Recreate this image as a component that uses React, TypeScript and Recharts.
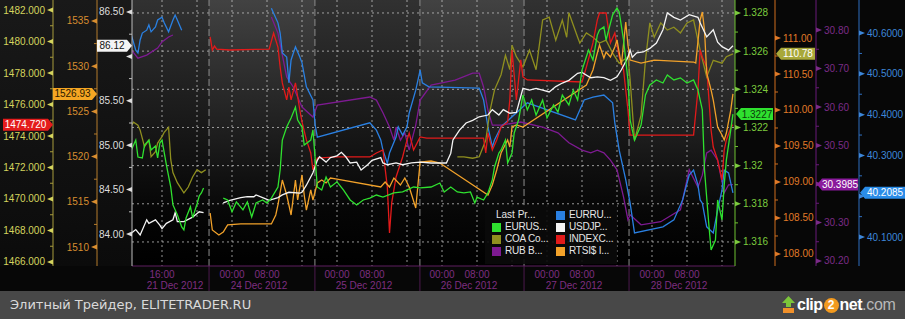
import React from "react";
import { LineChart, Line, XAxis, YAxis, CartesianGrid, ReferenceArea, ReferenceLine } from "recharts";

// hours on the squeezed intraday axis (weekend removed), value or null for a gap
type Pt = [number, number | null];

const timeTicks = [8, 16, 24, 32, 40, 48, 56, 64, 72, 80, 88, 96, 104, 112, 120, 128, 136];
const timeLabels = ["16:00", "", "00:00", "08:00", "", "00:00", "08:00", "", "00:00", "08:00", "", "00:00", "08:00", "", "00:00", "08:00", ""];
const dayLabels = ["21 Dec 2012", "", "", "24 Dec 2012", "", "", "25 Dec 2012", "", "", "26 Dec 2012", "", "", "27 Dec 2012", "", "", "28 Dec 2012", ""];
const dayBreaks = [18.75, 42.95, 66.95, 90.75, 114.75];
const timeDomain = [1.14, 138.97];

const eurUsd: Pt[] = [
  [1, 1.32082], [2, 1.32134], [2.5, 1.32045], [3.5, 1.3204], [4, 1.32108], [5, 1.32134], [5.5, 1.32082], [6.5, 1.32103],
  [7, 1.3204], [7.5, 1.32118], [8, 1.32134], [9, 1.32004], [10, 1.31888], [10.5, 1.31794], [11.5, 1.31742], [12.5, 1.31679],
  [13, 1.31663], [13.5, 1.31726], [14.5, 1.31784], [15, 1.31726], [16, 1.31799], [16.5, 1.31841], [17, 1.31857], [17.5, 1.31883],
  [19, null],
  [22, 1.3183], [23, 1.3182], [24, 1.31758], [25, 1.3181], [26.5, 1.31768], [27.5, 1.3181], [28.5, 1.31731], [29.5, 1.31804],
  [31, 1.3182], [32, 1.31804], [33, 1.3183], [34.5, 1.31888], [35, 1.31977], [35.5, 1.32134], [36.5, 1.32202], [37.5, 1.3225],
  [38.5, 1.32307], [39, 1.32239], [40, 1.32202], [40.5, 1.32108], [42, 1.32134], [42.5, 1.32187], [43.5, 1.31888], [44.5, 1.31872],
  [45.5, 1.3194], [46.5, 1.31888], [48, 1.31915], [49.5, 1.31872], [51, 1.3182], [52.5, 1.31794], [54, 1.3182], [55.5, 1.3183],
  [57, 1.31846], [58.5, 1.31835], [61, 1.31857], [63, 1.31862], [65.5, 1.31888], [67, 1.31883], [69.5, 1.31888], [71.5, 1.31909],
  [72.5, 1.31862], [74, 1.31888], [75.5, 1.31862], [77, 1.31857], [78.5, 1.31862], [79.5, 1.31804], [80, 1.31835], [81.5, 1.3182],
  [82.5, 1.31857], [83.5, 1.31925], [84, 1.31993], [85, 1.32066], [85.5, 1.32082], [86.5, 1.32134], [87, 1.32014], [88, 1.32066],
  [88.5, 1.32171], [89.5, 1.32239], [90.5, 1.3237], [91.5, 1.32292], [92.5, 1.32344], [93.5, 1.32265], [95, 1.32344], [96, 1.3225],
  [97.5, 1.32318], [98.5, 1.32281], [99.5, 1.3237], [101, 1.32318], [102, 1.32396], [103, 1.32344], [104, 1.32501], [105.5, 1.32606],
  [106.5, 1.32554], [107.5, 1.32684], [108, 1.32711], [109, 1.32727], [109.5, 1.32658], [111, 1.3279], [112, 1.32826], [112.5, 1.32805],
  [113.5, 1.32658], [114.5, 1.32449], [115, 1.32239], [116, 1.32134], [117.5, 1.32213], [118.5, 1.3237], [119.5, 1.32423], [121, 1.32449],
  [122.5, 1.32433], [123.5, 1.32475], [125, 1.32449], [126.5, 1.3246], [128, 1.32433], [129.5, 1.32449], [130.5, 1.32396], [131.5, 1.32292],
  [132, 1.31977], [133, 1.31689], [133.5, 1.31558], [134.5, 1.3161], [135, 1.3182], [136, 1.31715], [136.5, 1.31899], [137, 1.3203],
  [138, 1.32187], [138.5, 1.3227],
];

const coa: Pt[] = [
  [1, 109.79], [1.5, 109.83], [2.5, 109.79], [3, 109.72], [4, 109.49], [5, 109.58], [5.5, 109.35], [6.5, 109.42], [7, 109.54],
  [8, 109.63], [8.5, 109.69], [9.5, 109.76], [10, 109.31], [10.5, 109.13], [11.5, 108.99], [13, 108.85], [14, 108.93], [15, 109.07],
  [16, 109.17], [17, 109.13], [18, 109.17], [19, null],
  [75.5, 109.35], [77, 109.35], [79, 109.33], [80.5, 109.35], [82, 109.58], [83, 110.0], [84, 110.28], [85.5, 110.49], [86.5, 110.76],
  [87.5, 110.56], [88, 110.9], [89, 110.74], [90.5, 110.6], [92, 110.83], [93.5, 110.56], [95, 111.25], [96.5, 111.29], [98, 110.97],
  [99.5, 111.25], [100.5, 111.01], [101, 111.35], [103, 111.01], [103.5, 110.93], [105, 111.07], [106.5, 111.01], [108, 110.93],
  [109.5, 110.97], [111, 110.79], [112.5, 110.65], [114.5, 110.74], [115, 110.42], [116, 109.58], [117.5, 109.93], [118.5, 110.69],
  [119.5, 111.21], [120.5, 111.01], [122, 111.21], [123.5, 111.11], [125, 111.15], [126.5, 111.07], [128, 111.21], [129.5, 111.25],
  [131, 110.83], [132.5, 110.46], [134, 110.69], [136, 110.65], [137, 110.74], [138.5, 110.78],
];

const rub: Pt[] = [
  [1, 30.748], [2.5, 30.727], [4.5, 30.735], [7, 30.753], [8, 30.769], [9.5, 30.782], [10.5, 30.787], [12, null],
  [33, 30.834], [34.5, 30.792], [36.5, 30.678], [38, 30.652], [40, 30.6], [42.5, 30.574], [43.5, 30.605], [55.5, 30.626],
  [57, 30.618], [58.5, 30.585], [60, 30.548], [61, 30.514], [61.5, 30.548], [62.5, 30.514], [63.5, 30.533], [64.5, 30.488],
  [66, 30.553], [67, 30.618], [69.5, 30.657], [75, 30.67], [79, 30.688], [80.5, 30.688], [81.5, 30.652], [82.5, 30.592],
  [83.5, 30.553], [85.5, 30.553], [90, 30.561], [95, 30.548], [98.5, 30.533], [101, 30.507], [104, 30.488], [106, 30.481],
  [107.5, 30.488], [109, 30.481], [110.5, 30.462], [112, 30.437], [113.5, 30.366], [114.5, 30.307], [115, 30.32], [117.5, 30.294],
  [122, 30.302], [126.5, 30.333], [128.5, 30.437], [130.5, 30.392], [131.5, 30.423], [132.5, 30.481], [133.5, 30.488], [135, 30.462],
  [136.5, 30.377], [137.5, 30.398], [138.5, 30.3985],
];

const eurRub: Pt[] = [
  [1, 40.595], [2, 40.558], [2.5, 40.551], [3, 40.583], [3.5, 40.6], [4.5, 40.607], [5, 40.62], [5.5, 40.603], [6.5, 40.615],
  [7, 40.632], [8, 40.639], [8.5, 40.625], [9.5, 40.603], [10.5, 40.632], [11, 40.644], [11.5, 40.632], [12.5, 40.607], [13, null],
  [33, 40.661], [34.5, 40.625], [35, 40.6], [35.5, 40.551], [36.5, 40.541], [37, 40.478], [37.5, 40.534], [38.5, 40.566],
  [39.5, 40.541], [40, 40.527], [41, 40.468], [42.5, 40.436], [43, 40.375], [43.5, 40.345], [55.5, 40.38], [57, 40.362],
  [58, 40.338], [58.5, 40.313], [59.5, 40.281], [60, 40.306], [61.5, 40.345], [62, 40.37], [63, 40.35], [64, 40.37],
  [64.5, 40.404], [66, 40.46], [67, 40.509], [67.5, 40.478], [69, 40.468], [80.5, 40.465], [81.5, 40.436], [82.5, 40.37],
  [83.5, 40.321], [84, 40.338], [85.5, 40.37], [86, 40.375], [91.5, 40.429], [102.5, 40.387], [104.5, 40.436], [106.5, 40.443],
  [109, 40.448], [111, 40.429], [111.5, 40.38], [112.5, 40.313], [114, 40.24], [115, 40.183], [116, 40.11], [122.5, 40.125],
  [125, 40.142], [127, 40.191], [128.5, 40.252], [129.5, 40.264], [130.5, 40.228], [131, 40.191], [131.5, 40.183], [132.5, 40.125],
  [134, 40.11], [135, 40.166], [136, 40.215], [136.5, 40.264], [137.5, 40.257], [138.5, 40.2085],
];

const usdJpy: Pt[] = [
  [1, 84.01], [2, 84.05], [3, 83.99], [4.5, 84.16], [5, 84.12], [6.5, 84.16], [7.5, 84.1], [8, 84.06], [9, 84.12], [10.5, 84.16],
  [11, 84.24], [11.5, 84.14], [13, 84.14], [15, 84.19], [16.5, 84.25], [17.5, 84.24], [19, null],
  [22, 84.35], [23.5, 84.38], [26, 84.41], [27.5, 84.42], [29, 84.42], [29.5, 84.44], [31, 84.41], [32.5, 84.38], [34.5, 84.41],
  [35.5, 84.44], [37, 84.47], [39.5, 84.46], [40, 84.47], [41, 84.55], [42.5, 84.69], [43.5, 84.83], [44, 84.87], [45.5, 84.81],
  [46.5, 84.86], [48, 84.88], [49, 84.92], [50, 84.87], [51, 84.8], [52.5, 84.81], [53.5, 84.72], [55, 84.78], [56, 84.83],
  [58, 84.86], [58.5, 84.8], [59.5, 84.78], [61.5, 84.8], [63, 84.78], [65, 84.8], [67, 84.81], [69.5, 84.8], [71.5, 84.8],
  [73, 84.8], [74, 84.91], [74.5, 85.06], [76, 85.17], [77.5, 85.25], [79, 85.28], [80.5, 85.32], [82.5, 85.34], [83.5, 85.4],
  [85, 85.34], [86, 85.4], [87.5, 85.36], [89, 85.37], [90.5, 85.64], [92, 85.62], [93.5, 85.64], [95, 85.62], [96.5, 85.6],
  [98, 85.66], [99.5, 85.7], [101, 85.73], [103, 85.81], [104, 85.82], [106, 85.76], [107.5, 85.77], [109, 85.76], [110.5, 85.73],
  [112, 85.77], [113, 85.85], [114.5, 85.99], [115, 86.07], [115.5, 85.99], [116.5, 86.04], [118, 86.05], [119.5, 86.09],
  [121, 86.15], [122.5, 86.3], [123.5, 86.49], [125, 86.44], [126.5, 86.41], [128.5, 86.47], [130.5, 86.44], [131, 86.38],
  [132.5, 86.22], [134, 86.3], [135, 86.16], [136, 86.11], [137.5, 86.07], [138.5, 86.12],
];

const indexC: Pt[] = [
  [19, 1480.29], [19.5, 1479.46], [20, 1479.71], [20.5, 1479.52], [23.5, 1479.46], [32.5, 1479.52], [33.5, 1480.54], [34.5, 1479.65],
  [35, 1478.38], [35.5, 1477.37], [36.5, 1476.29], [37, 1477.11], [37.5, 1476.29], [38.5, 1477.37], [39.5, 1475.65], [40, 1474.89],
  [41, 1473.75], [42, 1472.92], [42.5, 1471.84], [43.5, 1472.6], [48, 1472.67], [55.5, 1472.67], [57, 1472.92], [58.5, 1473.11],
  [59.5, 1470.76], [60, 1467.84], [60.5, 1469.75], [61.5, 1471.4], [63, 1472.67], [64, 1473.75], [64.5, 1474.19], [65.5, 1473.11],
  [67, 1473.94], [68.5, 1473.87], [81.5, 1473.87], [82, 1472.92], [82.5, 1474.19], [83.5, 1473.11], [84.5, 1473.75], [85.5, 1474.57],
  [87, 1474.89], [87.5, 1476.29], [88, 1479.46], [89, 1476.29], [90, 1478.83], [90.5, 1477.75], [91.5, 1477.56], [104, 1477.43],
  [105, 1478.38], [106.5, 1479.91], [107.5, 1481.37], [108, 1481.81], [109.5, 1481.81], [110.5, 1479.91], [111.5, 1480.54],
  [112.5, 1479.02], [113.5, 1478.19], [114.5, 1475.65], [115, 1474.06], [129.5, 1474.06], [130.5, 1476.92], [131, 1479.46],
  [131.5, 1479.02], [132.5, 1478.38], [133.5, 1474.38], [134, 1473.3], [135, 1472.48], [136, 1471.21], [136.5, 1473.11],
  [137, 1473.75], [138, 1474.51], [138.5, 1474.72],
];

const rtsi: Pt[] = [
  [19, 1513.76], [19.5, 1511.88], [21, 1511.33], [22, 1511.66], [23, 1512.44], [26, 1512.55], [29, 1512.55], [33, 1512.55],
  [34, 1513.54], [34.5, 1514.65], [35.5, 1517.41], [36.5, 1515.75], [37.5, 1513.54], [38.5, 1517.41], [39, 1515.2], [40, 1517.97],
  [40.5, 1515.75], [41, 1514.09], [42, 1516.31], [42.5, 1515.2], [43.5, 1517.08], [44.5, 1517.41], [45.5, 1517.08], [46.5, 1517.63],
  [48, 1517.52], [58, 1516.64], [59, 1517.19], [60, 1516.64], [61, 1517.63], [62.5, 1516.86], [63.5, 1517.63], [64.5, 1516.64],
  [66, 1514.32], [67, 1519.4], [69.5, 1519.51], [71.5, 1519.29], [82.5, 1515.75], [83.5, 1516.86], [84.5, 1518.52], [85.5, 1520.4],
  [87, 1521.84], [87.5, 1521.06], [88, 1523.27], [89, 1523.5], [90.5, 1523.27], [105, 1527.92], [106.5, 1529.58], [107.5, 1531.46],
  [108, 1532.34], [109, 1530.91], [109.5, 1531.57], [110.5, 1531.02], [111.5, 1532.12], [112, 1532.9], [113, 1530.13], [114, 1534.89],
  [114.5, 1532.34], [115, 1530.68], [117.5, 1530.35], [120.5, 1530.68], [129.5, 1530.46], [130, 1530.35], [131, 1535.11],
  [131.5, 1535.99], [132, 1534.0], [132.5, 1529.25], [133.5, 1527.37], [134, 1526.26], [135, 1523.27], [136, 1522.39],
  [136.5, 1521.84], [137, 1522.61], [138, 1525.15], [138.5, 1526.93],
];

const indexcTicks = [1466, 1468, 1470, 1472, 1474, 1476, 1478, 1480, 1482];
const rtsiTicks = [1510, 1515, 1520, 1525, 1530, 1535];
const usdjpyTicks = [84, 84.5, 85, 85.5, 86, 86.5];
const eurusdTicks = [1.316, 1.318, 1.32, 1.322, 1.324, 1.326, 1.328];
const coaTicks = [108, 108.5, 109, 109.5, 110, 110.5, 111];
const rubTicks = [30.2, 30.3, 30.4, 30.5, 30.6, 30.7, 30.8];
const eurrubTicks = [40.1, 40.2, 40.3, 40.4, 40.5, 40.6];

const legendNames = ["EURUS...", "COA Co...", "RUB B...", "EURRU...", "USDJP...", "INDEXC...", "RTSI$ I..."];
const lineColors = ["#2fe12f", "#8f8f1f", "#7e1a92", "#2a80e2", "#f4f4f4", "#e21a1a", "#f2a22a"];

type Axis = {
  id: string; side: "left" | "right"; width: number; domain: number[]; ticks: number[];
  last: number; line: string; label: string; tagBg: string; tagFg: string; tagW: number;
  fmt: (v: number) => string; fmtLast: (v: number) => string;
};

// axis ids sort in the order the axes should stack outward from the plot
const axes: Axis[] = [
  { id: "a1-usdjpy", side: "left", width: 35, domain: [83.64, 86.635], ticks: usdjpyTicks, last: 86.12, line: "#bdbdbd", label: "#dedede", tagBg: "#f4f4f4", tagFg: "#111", tagW: 35, fmt: (v) => v.toFixed(2), fmtLast: (v) => v.toFixed(2) },
  { id: "a2-rtsi", side: "left", width: 44, domain: [1507.9, 1537.32], ticks: rtsiTicks, last: 1526.93, line: "#b57c2c", label: "#d88e30", tagBg: "#f5a623", tagFg: "#2a1800", tagW: 44, fmt: (v) => v.toFixed(0), fmtLast: (v) => v.toFixed(2) },
  { id: "a3-indexc", side: "left", width: 53, domain: [1465.746, 1482.635], ticks: indexcTicks, last: 1474.72, line: "#a89c3c", label: "#d4d45e", tagBg: "#e41c1c", tagFg: "#fff", tagW: 50, fmt: (v) => v.toFixed(3), fmtLast: (v) => v.toFixed(3) },
  { id: "b1-eurusd", side: "right", width: 40, domain: [1.31474, 1.32868], ticks: eurusdTicks, last: 1.3227, line: "#6fc232", label: "#7ccb3e", tagBg: "#2fe02f", tagFg: "#0b3a0b", tagW: 38, fmt: (v) => String(+v.toFixed(3)), fmtLast: (v) => v.toFixed(4) },
  { id: "b2-coa", side: "right", width: 41, domain: [107.833, 111.528], ticks: coaTicks, last: 110.78, line: "#d06e1e", label: "#e07a28", tagBg: "#a8a83a", tagFg: "#fff", tagW: 40, fmt: (v) => v.toFixed(2), fmtLast: (v) => v.toFixed(2) },
  { id: "b3-rub", side: "right", width: 43, domain: [30.187, 30.878], ticks: rubTicks, last: 30.3985, line: "#6a1a7a", label: "#7b2b88", tagBg: "#8a1a9c", tagFg: "#fff", tagW: 42, fmt: (v) => v.toFixed(2), fmtLast: (v) => v.toFixed(4) },
  { id: "b4-eurrub", side: "right", width: 46, domain: [40.029, 40.681], ticks: eurrubTicks, last: 40.2085, line: "#2f6fc0", label: "#3d86d8", tagBg: "#2a8ce8", tagFg: "#fff", tagW: 46, fmt: (v) => v.toFixed(4), fmtLast: (v) => v.toFixed(4) },
];

const FONT = "'Liberation Sans', Arial, sans-serif";
const PLOT_H = 266;

function makeYTick(ax: Axis) {
  const minors = ax.ticks.slice(1).map((t, i) => (t + ax.ticks[i]) / 2);
  const pxPerUnit = PLOT_H / (ax.domain[1] - ax.domain[0]);
  return function YTick(props: any) {
    const { x, y, payload } = props;
    const v = payload.value;
    const s = ax.side === "left" ? -1 : 1;
    if (v === ax.last) {
      let pts: string;
      let cx: number;
      if (s < 0) {
        const x0 = x - ax.tagW;
        pts = `${x0},${y - 6} ${x - 5},${y - 6} ${x},${y} ${x - 5},${y + 6} ${x0},${y + 6}`;
        cx = (x0 + x - 5) / 2;
      } else {
        const x1 = x + ax.tagW;
        pts = `${x + 1},${y} ${x + 6},${y - 6} ${x1},${y - 6} ${x1},${y + 6} ${x + 6},${y + 6}`;
        cx = (x + 6 + x1) / 2;
      }
      return (
        <g>
          <polygon points={pts} fill={ax.tagBg} />
          <text x={cx} y={y + 3.5} textAnchor="middle" fill={ax.tagFg} fontSize={10} fontFamily={FONT}>
            {ax.fmtLast(v)}
          </text>
        </g>
      );
    }
    if (minors.some((m) => Math.abs(m - v) < 1e-7)) {
      return <line x1={x} x2={x + s * 3} y1={y} y2={y} stroke={ax.line} />;
    }
    // a label hidden under the last-price tag is not drawn
    const hidden = Math.abs(v - ax.last) * pxPerUnit < 11;
    return (
      <g>
        <polygon points={`${x + s * 6},${y} ${x},${y - 2.5} ${x},${y + 2.5}`} fill={ax.label} />
        {hidden ? null : (
          <text x={x + s * 8} y={y + 3.5} textAnchor={s < 0 ? "end" : "start"} fill={ax.label} fontSize={10} fontFamily={FONT}>
            {ax.fmt(v)}
          </text>
        )}
      </g>
    );
  };
}

function XTick(props: any) {
  const { x, y, payload } = props;
  const i = timeTicks.indexOf(payload.value);
  return (
    <g fontFamily={FONT} fontSize={10} fill="#7e2e80">
      <text x={x} y={y + 12} textAnchor="middle">{timeLabels[i]}</text>
      {dayLabels[i] ? (
        <text x={x + (i === 0 ? 13 : -8)} y={y + 23} textAnchor="middle">{dayLabels[i]}</text>
      ) : null}
    </g>
  );
}

const toRows = (pts: Pt[]) => pts.map(([h, v]) => ({ h, v }));

export default function App() {
  const series = [eurUsd, coa, rub, eurRub, usdJpy, indexC, rtsi];
  const ids = ["b1-eurusd", "b2-coa", "b3-rub", "b4-eurrub", "a1-usdjpy", "a3-indexc", "a2-rtsi"];
  const drawOrder = [2, 3, 1, 5, 6, 4, 0];
  const edges = [timeDomain[0], ...dayBreaks, timeDomain[1]];
  const legendCells: Array<[number, number, number]> = [
    [0, 1, 3], [1, 0, 0], [1, 1, 4], [2, 0, 1], [2, 1, 5], [3, 0, 2], [3, 1, 6],
  ];

  return (
    <div style={{ position: "relative", width: 905, height: 319, background: "#070707", overflow: "hidden", fontFamily: FONT }}>
      <style>{"body{margin:0;background:#000}"}</style>
      <div style={{ position: "absolute", left: 0, top: 0, width: 132, height: 266, background: "linear-gradient(#191919, #0b0b0b)" }} />
      <div style={{ position: "absolute", left: 0, top: 0 }}>
        <LineChart width={905} height={291} margin={{ top: 0, right: 0, bottom: 0, left: 0 }}>
          <defs>
            <linearGradient id="bgDark" x1="0" y1="0" x2="0" y2="1">
              <stop offset="0%" stopColor="#313131" />
              <stop offset="50%" stopColor="#171717" />
              <stop offset="80%" stopColor="#050505" />
              <stop offset="100%" stopColor="#000" />
            </linearGradient>
            <linearGradient id="bgLight" x1="0" y1="0" x2="0" y2="1">
              <stop offset="0%" stopColor="#424242" />
              <stop offset="50%" stopColor="#1e1e1e" />
              <stop offset="80%" stopColor="#070707" />
              <stop offset="100%" stopColor="#000" />
            </linearGradient>
          </defs>
          {edges.slice(1).map((x2, i) => (
            <ReferenceArea
              key={`day-${i}`}
              x1={edges[i]}
              x2={x2}
              yAxisId="b1-eurusd"
              fill={i % 2 ? "url(#bgLight)" : "url(#bgDark)"}
              fillOpacity={1}
              stroke="none"
              zIndex={-200}
            />
          ))}
          <XAxis
            dataKey="h"
            type="number"
            domain={timeDomain}
            allowDataOverflow
            ticks={timeTicks}
            interval={0}
            height={25}
            tickSize={0}
            tickMargin={0}
            tickLine={false}
            axisLine={{ stroke: "#5e1f60" }}
            tick={<XTick />}
          />
          {axes.map((ax) => (
            <YAxis
              key={ax.id}
              yAxisId={ax.id}
              orientation={ax.side}
              width={ax.width}
              type="number"
              domain={ax.domain}
              allowDataOverflow
              ticks={[...ax.ticks, ...ax.ticks.slice(1).map((t, i) => (t + ax.ticks[i]) / 2), ax.last]}
              interval={0}
              tickSize={0}
              tickMargin={0}
              tickLine={false}
              axisLine={{ stroke: ax.line }}
              tick={makeYTick(ax)}
            />
          ))}
          <CartesianGrid
            yAxisId="b1-eurusd"
            horizontalValues={eurusdTicks}
            verticalValues={timeTicks}
            stroke="#c8c8c8"
            strokeOpacity={0.75}
            strokeDasharray="2 3"
          />
          {dayBreaks.map((b) => (
            <ReferenceLine
              key={`brk-${b}`}
              x={b}
              yAxisId="b1-eurusd"
              stroke="#8d8d8d"
              strokeDasharray="7 3"
              label={(p: any) => {
                const vb = p.viewBox || {};
                const bx = vb.x ?? 0;
                const by = (vb.y ?? 0) + (vb.height ?? 0);
                return <line x1={bx} x2={bx} y1={by} y2={by + 26} stroke="#4c1a4e" />;
              }}
            />
          ))}
          {drawOrder.map((k) => (
            <Line
              key={ids[k]}
              data={toRows(series[k])}
              dataKey="v"
              yAxisId={ids[k]}
              stroke={lineColors[k]}
              strokeWidth={1.3}
              dot={false}
              activeDot={false}
              connectNulls={false}
              isAnimationActive={false}
            />
          ))}
        </LineChart>
      </div>

      <div style={{ position: "absolute", left: 485, top: 205, width: 132, height: 59, background: "rgba(10,10,10,0.9)", color: "#e6e6e6", fontSize: 10 }}>
        <span style={{ position: "absolute", left: 11, top: 4, lineHeight: "12px" }}>Last Pr...</span>
        {legendCells.map(([r, c, k]) => (
          <div key={`lg-${k}`} style={{ position: "absolute", left: c === 0 ? 7 : 71, top: 4 + r * 12, height: 12, display: "flex", alignItems: "center" }}>
            <span style={{ width: 9, height: 9, background: lineColors[k], display: "inline-block", marginRight: 4 }} />
            <span style={{ lineHeight: "12px", letterSpacing: -0.2 }}>{legendNames[k]}</span>
          </div>
        ))}
      </div>

      <div style={{ position: "absolute", left: 0, top: 291, width: 905, height: 28, background: "#484848" }}>
        <span style={{ position: "absolute", left: 10, top: 6, fontFamily: "'DejaVu Sans', sans-serif", fontSize: 13, color: "#dadada" }}>
          Элитный Трейдер, ELITETRADER.RU
        </span>
        <div style={{ position: "absolute", left: 782, top: 4, height: 20, display: "flex", alignItems: "center", fontFamily: FONT, fontSize: 16, fontWeight: 700 }}>
          <svg width={13} height={18} style={{ marginRight: 2 }}>
            <polygon points="6.5,0 13,7 9,7 9,11 4,11 4,7 0,7" fill="#7cc63a" />
            <rect x={1} y={12} width={11} height={5} fill="#f0902a" />
          </svg>
          <span style={{ color: "#fff", letterSpacing: -0.5 }}>clip</span>
          <span style={{ display: "inline-block", width: 15, height: 15, borderRadius: 8, background: "#f39a1e", color: "#fff", fontSize: 12, lineHeight: "15px", textAlign: "center", margin: "0 1px" }}>2</span>
          <span style={{ color: "#fff", letterSpacing: -0.5 }}>net</span>
          <span style={{ color: "#b8b8b8", fontWeight: 400, letterSpacing: -0.3 }}>.com</span>
        </div>
      </div>
    </div>
  );
}
